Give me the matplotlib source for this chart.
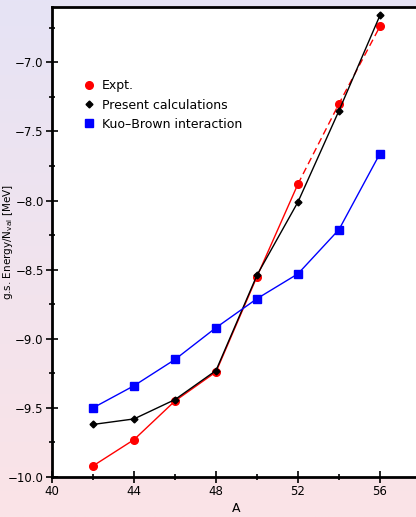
import numpy as np
import matplotlib.pyplot as plt
from matplotlib.lines import Line2D
from matplotlib.colors import LinearSegmentedColormap

# Data
A = [42, 44, 46, 48, 50, 52, 54, 56]
expt = [-9.92, -9.73, -9.45, -9.24, -8.55, -7.88, -7.30, -6.74]
present = [-9.62, -9.58, -9.44, -9.23, -8.54, -8.01, -7.35, -6.66]
kuo_brown = [-9.50, -9.34, -9.15, -8.92, -8.71, -8.53, -8.21, -7.66]

fig = plt.figure(figsize=(4.16, 5.17), dpi=100)

# slide-style gradient background
bg = fig.add_axes([0, 0, 1, 1], zorder=-10)
cmap = LinearSegmentedColormap.from_list('bg', ['#e6e3f5', '#fbe4e7'])
grad = np.linspace(0, 1, 256).reshape(-1, 1)
bg.imshow(grad, aspect='auto', cmap=cmap, extent=[0, 1, 0, 1], origin='upper')
bg.axis('off')

ax = fig.add_axes([0.125, 0.0774, 0.887, 0.9091])
ax.set_facecolor('white')

# Expt: solid up to A=52, dashed after
ax.plot(A[:6], expt[:6], color='red', lw=1)
ax.plot(A[5:], expt[5:], color='red', lw=1, ls=(0, (5, 3)))
ax.plot(A, expt, 'o', color='red', ms=5.5, mec='red')
ax.plot(A, present, '-D', color='black', lw=1, ms=3.5)
ax.plot(A, kuo_brown, '-s', color='blue', lw=1, ms=6)

ax.set_xlim(40, 58)
ax.set_ylim(-10.0, -6.6)
ax.set_xticks([40, 44, 48, 52, 56])
ax.set_xticks([42, 46, 50, 54], minor=True)
ax.set_yticks([-10.0, -9.5, -9.0, -8.5, -8.0, -7.5, -7.0])
ax.set_yticklabels(['\u221210.0', '\u22129.5', '\u22129.0', '\u22128.5',
                    '\u22128.0', '\u22127.5', '\u22127.0'])
ax.set_yticks(np.arange(-9.75, -6.6, 0.5), minor=True)
ax.tick_params(which='major', direction='inout', length=9, width=1.2,
               labelsize=8.5, pad=1.5)
ax.tick_params(which='minor', direction='inout', length=4, width=1.2)
ax.tick_params(top=False, right=False)
for s in ax.spines.values():
    s.set_linewidth(2)

ax.set_xlabel('A', fontsize=9, labelpad=3)
ax.set_ylabel('g.s. Energy/N$_{\\mathrm{val}}$ [MeV]', fontsize=7.5)
ax.yaxis.set_label_coords(-0.1, 0.5)

handles = [
    Line2D([], [], ls='none', marker='o', color='red', ms=5.5),
    Line2D([], [], ls='none', marker='D', color='black', ms=3.5),
    Line2D([], [], ls='none', marker='s', color='blue', ms=6),
]
ax.legend(handles, ['Expt.', 'Present calculations', 'Kuo\u2013Brown interaction'],
          loc='upper left', bbox_to_anchor=(0.05, 0.87), frameon=False,
          fontsize=9, handletextpad=0.4, labelspacing=0.5, handlelength=1.2)

fig.savefig('out.png', dpi=100)
